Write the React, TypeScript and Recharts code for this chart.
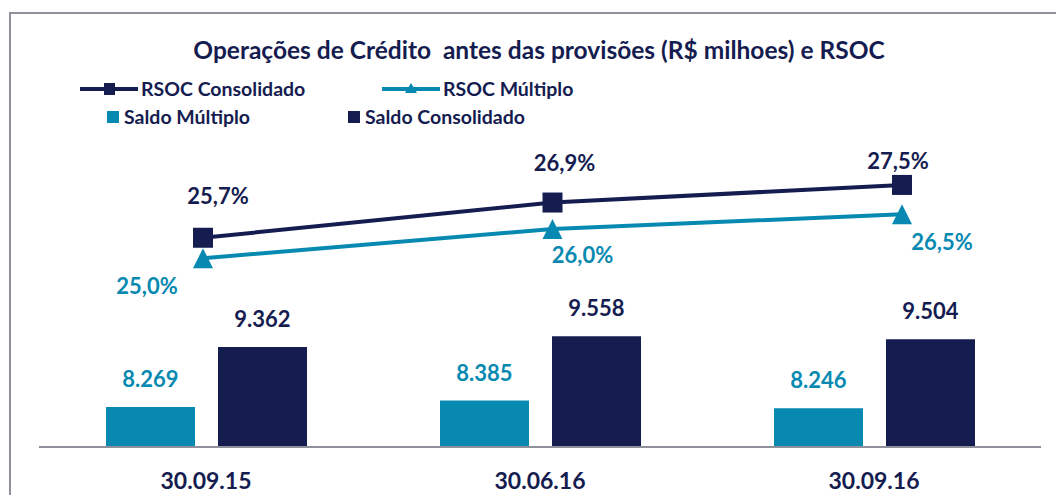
import React from "react";
import { ComposedChart, Bar, Line, XAxis, YAxis, LabelList } from "recharts";

const categories = ["30.09.15", "30.06.16", "30.09.16"];
const saldoMultiplo = [8269, 8385, 8246];
const saldoConsolidado = [9362, 9558, 9504];
const rsocConsolidado = [25.7, 26.9, 27.5];
const rsocMultiplo = [25.0, 26.0, 26.5];

const NAVY = "#151c50";
const TEAL = "#0789b1";
const GRID = "#8e909a";
const FONT = "Lato, 'Noto Sans', sans-serif";

// label nudges taken from the original layout (dx, dy from the marker)
const consOffsets = [
  [15, -42],
  [12, -39],
  [-4, -24],
];
const multOffsets = [
  [-56, 28],
  [30, 26],
  [40, 28],
];

const data = categories.map((name, i) => ({
  name,
  idx: i,
  saldoMultiplo: saldoMultiplo[i],
  saldoConsolidado: saldoConsolidado[i],
  rsocConsolidado: rsocConsolidado[i],
  rsocMultiplo: rsocMultiplo[i],
}));

const fmtSaldo = (v: number) => (v / 1000).toFixed(3);
const fmtPct = (v: number) => v.toFixed(1).replace(".", ",") + "%";

const pctLabel = (offsets: number[][], color: string) => (props: any) => {
  const { x, y, value, index } = props;
  const [dx, dy] = offsets[index] || [0, -20];
  return (
    <text
      x={x + dx}
      y={y + dy}
      dy="0.36em"
      textAnchor="middle"
      fill={color}
      fontFamily={FONT}
      fontWeight={700}
      fontSize={22}
    >
      {fmtPct(value)}
    </text>
  );
};

const squareDot = (props: any) => {
  const { cx, cy, index } = props;
  return <rect key={`sq-${index}`} x={cx - 10} y={cy - 10} width={20} height={20} fill={NAVY} />;
};

const triangleDot = (props: any) => {
  const { cx, cy, index } = props;
  return (
    <polygon
      key={`tr-${index}`}
      points={`${cx},${cy - 10} ${cx + 10},${cy + 10} ${cx - 10},${cy + 10}`}
      fill={TEAL}
    />
  );
};

const LegendLine = ({ color, shape }: { color: string; shape: "square" | "triangle" }) => (
  <svg width={58} height={14} style={{ display: "block" }}>
    <line x1={0} y1={7} x2={58} y2={7} stroke={color} strokeWidth={4} strokeLinecap="round" />
    {shape === "square" ? (
      <rect x={24} y={1} width={11} height={12} fill={color} />
    ) : (
      <polygon points="29,1 35,11 23,11" fill={color} />
    )}
  </svg>
);

const legendText: React.CSSProperties = {
  fontFamily: FONT,
  fontWeight: 700,
  fontSize: 19.5,
  lineHeight: "24px",
  color: NAVY,
  whiteSpace: "nowrap",
};

export default function App() {
  return (
    <div
      style={{
        position: "fixed",
        left: 0,
        top: 0,
        width: 1056,
        height: 495,
        overflow: "hidden",
        background: "#fff",
      }}
    >
      <div
        style={{
          position: "absolute",
          left: 9,
          top: 12,
          width: 1100,
          height: 600,
          borderLeft: `2px solid ${GRID}`,
          borderTop: `2px solid ${GRID}`,
        }}
      />
      <div
        style={{
          position: "absolute",
          left: 0,
          top: 35,
          width: 1078,
          textAlign: "center",
          fontFamily: FONT,
          fontWeight: 700,
          fontSize: 24.5,
          lineHeight: "30px",
          color: NAVY,
          whiteSpace: "pre",
        }}
      >
        {"Operações de Crédito  antes das provisões (R$ milhoes) e RSOC"}
      </div>

      <div style={{ position: "absolute", left: 80, top: 77, display: "flex", alignItems: "center" }}>
        <LegendLine color={NAVY} shape="square" />
        <span style={{ ...legendText, marginLeft: 3 }}>RSOC Consolidado</span>
      </div>
      <div style={{ position: "absolute", left: 382, top: 77, display: "flex", alignItems: "center" }}>
        <LegendLine color={TEAL} shape="triangle" />
        <span style={{ ...legendText, marginLeft: 3 }}>RSOC Múltiplo</span>
      </div>
      <div style={{ position: "absolute", left: 107, top: 105, display: "flex", alignItems: "center" }}>
        <div style={{ width: 12, height: 12, background: TEAL }} />
        <span style={{ ...legendText, marginLeft: 5 }}>Saldo Múltiplo</span>
      </div>
      <div style={{ position: "absolute", left: 348, top: 105, display: "flex", alignItems: "center" }}>
        <div style={{ width: 12, height: 12, background: NAVY }} />
        <span style={{ ...legendText, marginLeft: 5 }}>Saldo Consolidado</span>
      </div>

      <div style={{ position: "absolute", left: 0, top: 0 }}>
        <ComposedChart
          width={1056}
          height={495}
          data={data}
          margin={{ top: 150, right: 15, left: 39, bottom: 0 }}
          barGap={23}
          barCategoryGap={66}
        >
          <XAxis
            xAxisId="cat"
            dataKey="name"
            height={48}
            tickLine={false}
            tickSize={0}
            tickMargin={26}
            axisLine={{ stroke: GRID, strokeWidth: 2 }}
            tick={{ fill: NAVY, fontFamily: FONT, fontWeight: 700, fontSize: 23 }}
          />
          <XAxis
            xAxisId="line"
            dataKey="idx"
            type="number"
            domain={[0, 2]}
            padding={{ left: 164, right: 139 }}
            hide
          />
          <YAxis yAxisId="bar" domain={[7540, 12950]} allowDataOverflow hide />
          <YAxis yAxisId="pct" domain={[18.57, 28.69]} allowDataOverflow hide />

          <Bar
            xAxisId="cat"
            yAxisId="bar"
            dataKey="saldoMultiplo"
            fill={TEAL}
            barSize={89}
            isAnimationActive={false}
          >
            <LabelList
              dataKey="saldoMultiplo"
              position="top"
              offset={20}
              formatter={(v: any) => fmtSaldo(Number(v))}
              fill={TEAL}
              fontFamily={FONT}
              fontWeight={700}
              fontSize={22}
            />
          </Bar>
          <Bar
            xAxisId="cat"
            yAxisId="bar"
            dataKey="saldoConsolidado"
            fill={NAVY}
            barSize={89}
            isAnimationActive={false}
          >
            <LabelList
              dataKey="saldoConsolidado"
              position="top"
              offset={20}
              formatter={(v: any) => fmtSaldo(Number(v))}
              fill={NAVY}
              fontFamily={FONT}
              fontWeight={700}
              fontSize={22}
            />
          </Bar>

          <Line
            xAxisId="line"
            yAxisId="pct"
            dataKey="rsocConsolidado"
            stroke={NAVY}
            strokeWidth={4}
            dot={squareDot}
            activeDot={false}
            isAnimationActive={false}
          >
            <LabelList dataKey="rsocConsolidado" content={pctLabel(consOffsets, NAVY)} />
          </Line>
          <Line
            xAxisId="line"
            yAxisId="pct"
            dataKey="rsocMultiplo"
            stroke={TEAL}
            strokeWidth={4}
            dot={triangleDot}
            activeDot={false}
            isAnimationActive={false}
          >
            <LabelList dataKey="rsocMultiplo" content={pctLabel(multOffsets, TEAL)} />
          </Line>
        </ComposedChart>
      </div>
    </div>
  );
}
